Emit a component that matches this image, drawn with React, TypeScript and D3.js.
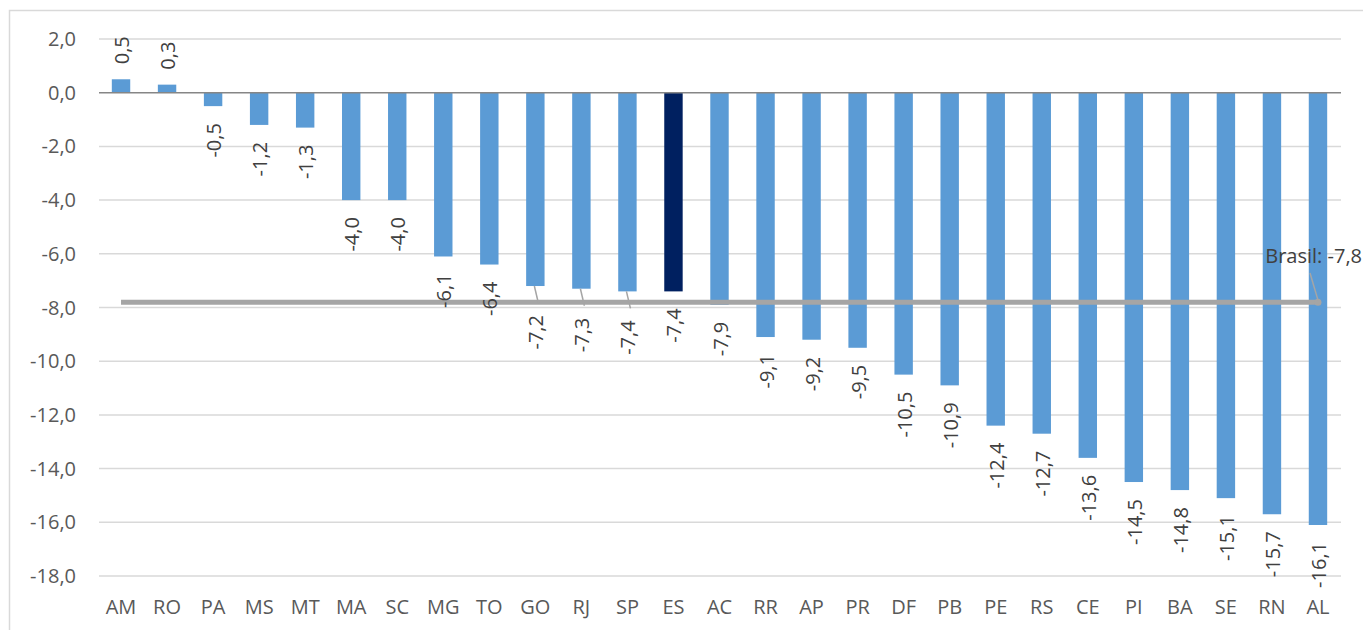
import React from 'react';
import { scaleBand, scaleLinear, range, format } from 'd3';

const states = ['AM', 'RO', 'PA', 'MS', 'MT', 'MA', 'SC', 'MG', 'TO', 'GO', 'RJ', 'SP', 'ES', 'AC', 'RR', 'AP', 'PR', 'DF', 'PB', 'PE', 'RS', 'CE', 'PI', 'BA', 'SE', 'RN', 'AL'];
const values = [0.5, 0.3, -0.5, -1.2, -1.3, -4.0, -4.0, -6.1, -6.4, -7.2, -7.3, -7.4, -7.4, -7.9, -9.1, -9.2, -9.5, -10.5, -10.9, -12.4, -12.7, -13.6, -14.5, -14.8, -15.1, -15.7, -16.1];
const yTicks = range(-18, 3, 2);
const brasil = -7.8;
const highlight = 'ES';
const leaderLabels = ['GO', 'RJ', 'SP'];

const W = 1363;
const H = 630;
const FONT = '"Open Sans", sans-serif';

const fmt = (v: number) => format('.1f')(v).replace('.', ',').replace('−', '-');

export default function App() {
  const x = scaleBand<string>().domain(states).range([98, 1341]).paddingInner(0.6).paddingOuter(0.3);
  const y = scaleLinear().domain([-18, 2]).range([576, 39]);
  const cx = (s: string) => (x(s) as number) + x.bandwidth() / 2;
  const y0 = y(0);
  const last = states[states.length - 1];

  return (
    <svg width={W} height={H} style={{ position: 'absolute', left: 0, top: 0 }} fontFamily={FONT}>
      <rect x={0} y={0} width={W} height={H} fill="#fff" />
      <rect x={9.5} y={10.5} width={W + 20} height={H + 20} fill="none" stroke="#d9d9d9" strokeWidth={1.5} />

      {/* grid + y axis */}
      {yTicks.map(t => (
        <g key={t}>
          {t !== 0 && <line x1={99} x2={1341} y1={y(t)} y2={y(t)} stroke="#d9d9d9" strokeWidth={1.5} />}
          <text x={76} y={y(t)} dy="0.35em" textAnchor="end" fontSize={20} fill="#595959">
            {fmt(t)}
          </text>
        </g>
      ))}

      {/* bars */}
      {states.map((s, i) => {
        const v = values[i];
        return (
          <rect
            key={s}
            x={x(s)}
            y={Math.min(y(v), y0)}
            width={x.bandwidth()}
            height={Math.abs(y(v) - y0)}
            fill={s === highlight ? '#002060' : '#5b9bd5'}
          />
        );
      })}

      <line x1={99} x2={1341} y1={y0} y2={y0} stroke="#868686" strokeWidth={1.5} />

      {/* Brasil line */}
      <line x1={cx(states[0])} x2={cx(last)} y1={y(brasil)} y2={y(brasil)} stroke="#a5a5a5" strokeWidth={5} />
      <circle cx={cx(last)} cy={y(brasil)} r={3.5} fill="#a5a5a5" />
      <line x1={cx(last)} y1={y(brasil) - 2} x2={1310} y2={273} stroke="#a5a5a5" strokeWidth={1.5} />
      <text x={1362} y={256} dy="0.35em" textAnchor="end" fontSize={20} fill="#404040">
        Brasil: {fmt(brasil)}
      </text>

      {/* data labels */}
      {states.map((s, i) => {
        const v = values[i];
        const lead = leaderLabels.includes(s);
        const tx = cx(s) + 1;
        if (v >= 0) {
          const ty = y(v) - 15;
          return (
            <text key={s} transform={`translate(${tx},${ty}) rotate(-90)`} dy="0.35em" textAnchor="start" fontSize={20} fill="#404040">
              {fmt(v)}
            </text>
          );
        }
        const ty = y(v) + (lead ? 29 : 17);
        return (
          <g key={s}>
            {lead && <line x1={cx(s) - 1} y1={y(v)} x2={tx + 2} y2={ty - 12} stroke="#a5a5a5" strokeWidth={1.5} />}
            <text transform={`translate(${tx},${ty}) rotate(-90)`} dy="0.35em" textAnchor="end" fontSize={20} fill="#404040">
              {fmt(v)}
            </text>
          </g>
        );
      })}

      {/* x axis labels */}
      {states.map(s => (
        <text key={s} x={cx(s)} y={607} dy="0.35em" textAnchor="middle" fontSize={20} fill="#595959">
          {s}
        </text>
      ))}
    </svg>
  );
}
